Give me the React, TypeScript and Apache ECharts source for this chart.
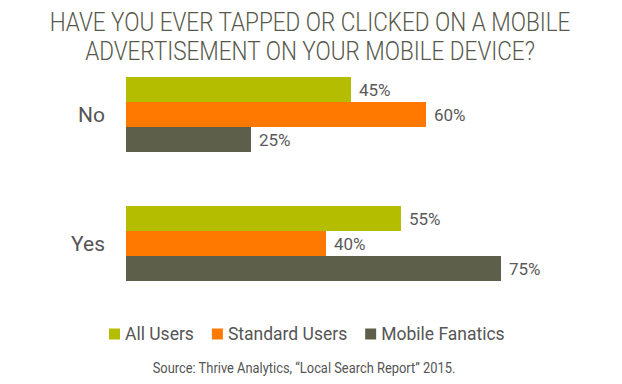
import React, { useEffect, useRef } from "react";
import * as echarts from "echarts";

const categories = ["No", "Yes"];
const seriesNames = ["All Users", "Standard Users", "Mobile Fanatics"];
const allUsers = [45, 55];
const standardUsers = [60, 40];
const mobileFanatics = [25, 75];
const colors = ["#b5bd00", "#ff7900", "#5d5f4b"];
const titleLines = ["HAVE YOU EVER TAPPED OR CLICKED ON A MOBILE", "ADVERTISEMENT ON YOUR MOBILE DEVICE?"];
const sourceText = "Source: Thrive Analytics, \u201CLocal Search Report\u201D 2015.";

const FONT = "'Roboto', sans-serif";

export default function App() {
  const ref = useRef<HTMLDivElement>(null);
  useEffect(() => {
    if (!ref.current) return;
    const chart = echarts.init(ref.current, undefined, { renderer: "svg" });
    const values = [allUsers, standardUsers, mobileFanatics];
    chart.setOption({
      animation: false,
      backgroundColor: "#ffffff",
      graphic: [
        ...titleLines.map((t, i) => ({
          type: "text",
          x: 310,
          y: 23 + i * 29,
          scaleX: 0.9,
          style: {
            text: t,
            textAlign: "center",
            textVerticalAlign: "middle",
            fontFamily: FONT,
            fontSize: 25,
            fontWeight: 300,
            fill: "#56584a",
          },
        })),
        {
          type: "text",
          x: 304,
          y: 368,
          scaleX: 0.86,
          style: {
            text: sourceText,
            textAlign: "center",
            textVerticalAlign: "middle",
            fontFamily: FONT,
            fontSize: 15,
            fill: "#555555",
          },
        },
      ],
      legend: {
        data: seriesNames,
        left: 104,
        top: 320,
        icon: "rect",
        itemWidth: 11,
        itemHeight: 11,
        itemGap: 18,
        textStyle: { fontFamily: FONT, fontSize: 17.5, color: "#555555" },
      },
      grid: { left: 126, top: 50, width: 400, height: 258, containLabel: false },
      xAxis: {
        type: "value",
        min: 0,
        max: 80,
        show: false,
      },
      yAxis: {
        type: "category",
        data: categories,
        inverse: true,
        axisLine: { show: false },
        axisTick: { show: false },
        axisLabel: { fontFamily: FONT, fontSize: 21, color: "#555555", margin: 21 },
      },
      series: seriesNames.map((name, i) => ({
        name,
        type: "bar",
        data: values[i],
        barWidth: 25,
        barGap: "0%",
        itemStyle: { color: colors[i] },
        label: {
          show: true,
          position: "right",
          distance: 8,
          formatter: "{c}%",
          fontFamily: FONT,
          fontSize: 17,
          color: "#5a5a5a",
        },
      })),
    });
    return () => chart.dispose();
  }, []);
  return <div ref={ref} style={{ width: 622, height: 384, position: "absolute", left: 0, top: 0 }} />;
}
